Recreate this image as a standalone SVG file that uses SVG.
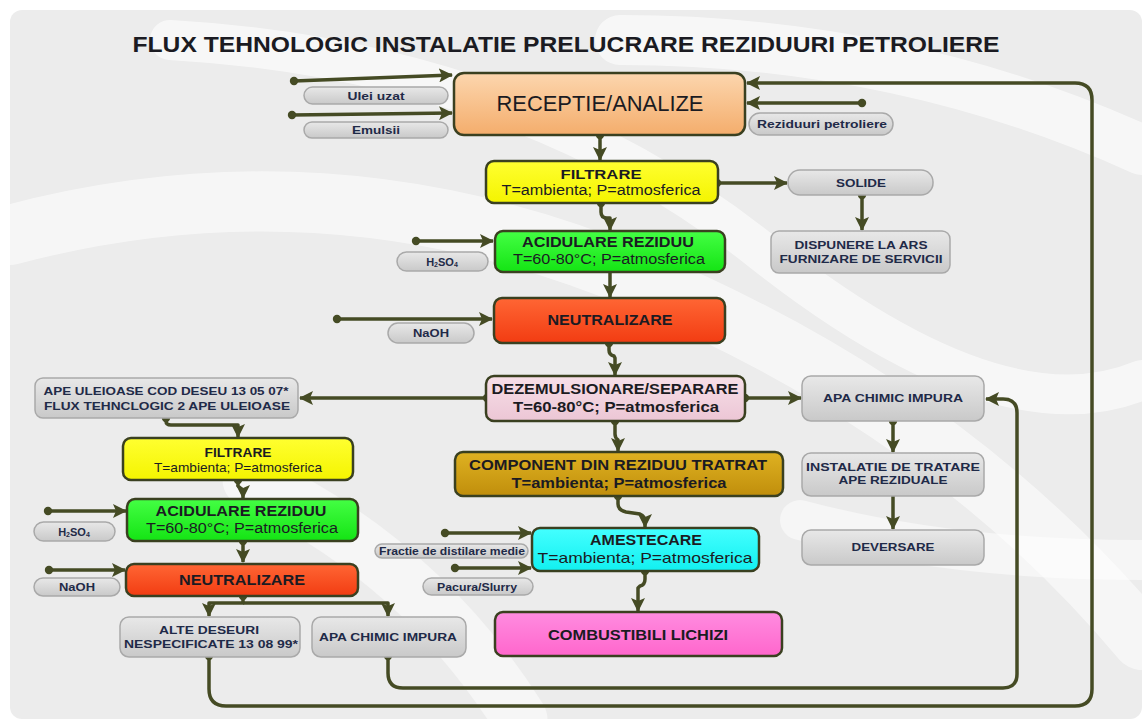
<svg xmlns="http://www.w3.org/2000/svg" width="1142" height="719" viewBox="0 0 1142 719">
<defs>
<linearGradient id="gOrange" x1="0" y1="0" x2="0" y2="1"><stop offset="0" stop-color="#fcd6ae"/><stop offset="1" stop-color="#f4ad6c"/></linearGradient>
<linearGradient id="gYellow" x1="0" y1="0" x2="0" y2="1"><stop offset="0" stop-color="#ffff30"/><stop offset="1" stop-color="#f4f400"/></linearGradient>
<linearGradient id="gGreen" x1="0" y1="0" x2="0" y2="1"><stop offset="0" stop-color="#44ff44"/><stop offset="1" stop-color="#14e414"/></linearGradient>
<linearGradient id="gRed" x1="0" y1="0" x2="0" y2="1"><stop offset="0" stop-color="#ff6634"/><stop offset="1" stop-color="#f23c12"/></linearGradient>
<linearGradient id="gPink" x1="0" y1="0" x2="0" y2="1"><stop offset="0" stop-color="#f7dfe8"/><stop offset="1" stop-color="#ecc6d5"/></linearGradient>
<linearGradient id="gGold" x1="0" y1="0" x2="0" y2="1"><stop offset="0" stop-color="#dfb222"/><stop offset="1" stop-color="#c08e0c"/></linearGradient>
<linearGradient id="gCyan" x1="0" y1="0" x2="0" y2="1"><stop offset="0" stop-color="#44ffff"/><stop offset="1" stop-color="#12f0f0"/></linearGradient>
<linearGradient id="gMag" x1="0" y1="0" x2="0" y2="1"><stop offset="0" stop-color="#ff8ce0"/><stop offset="1" stop-color="#ff66cc"/></linearGradient>
<linearGradient id="gGray" x1="0" y1="0" x2="0" y2="1"><stop offset="0" stop-color="#e8e8e8"/><stop offset="1" stop-color="#c9c9c9"/></linearGradient>
<marker id="arr" viewBox="0 0 14 14" refX="13" refY="7" markerWidth="14" markerHeight="14" markerUnits="userSpaceOnUse" orient="auto">
<path d="M0,0 L14,7 L0,14 L3,7 z" fill="#454b24"/>
</marker>
<marker id="dot" viewBox="-5 -5 10 10" refX="0" refY="0" markerWidth="10" markerHeight="10" markerUnits="userSpaceOnUse">
<circle r="4.2" fill="#454b24"/>
</marker>
<style>
.bg{fill:#ececec}
.sw{fill:none;stroke:#ffffff;stroke-linecap:round}
.n{stroke:#3a4020;stroke-width:2.5}
.g{fill:url(#gGray);stroke:#a9a9a9;stroke-width:1.5}
.c{fill:none;stroke:#454b24;stroke-width:3.5;stroke-linejoin:round;marker-end:url(#arr)}
.d{marker-start:url(#dot)}
.t{font-family:"Liberation Sans",Arial,sans-serif;fill:#1b1b22;text-anchor:middle}
.b{font-weight:bold}
.p{font-family:"Liberation Sans",Arial,sans-serif;font-weight:bold;fill:#1f2a48;text-anchor:middle;font-size:11px}
</style>
</defs>

<!-- background -->
<rect x="0" y="0" width="1142" height="719" fill="#ffffff"/>
<rect class="bg" x="10" y="10" width="1132" height="709" rx="12"/>
<path class="sw" d="M10,235 Q330,150 640,280 T1142,640" stroke-width="60" opacity="0.55"/>
<path class="sw" d="M170,40 Q520,60 760,250 T1142,380" stroke-width="40" opacity="0.6"/>
<path class="sw" d="M620,40 Q900,40 1142,150" stroke-width="50" opacity="0.6"/>
<path class="sw" d="M250,480 Q420,560 520,719" stroke-width="55" opacity="0.5"/>
<path class="sw" d="M800,520 Q950,560 1142,560" stroke-width="40" opacity="0.5"/>

<text class="t b" x="566" y="52" font-size="22" textLength="867" lengthAdjust="spacingAndGlyphs" fill="#1c1c28">FLUX TEHNOLOGIC INSTALATIE PRELUCRARE REZIDUURI PETROLIERE</text>

<g id="connectors">
<path class="c d" d="M294,81 L452,75"/>
<path class="c d" d="M292,115 L452,113"/>
<path class="c d" d="M862,103 L747,103" stroke-width="5.5"/>
<path class="c d" d="M600,135 L600,160"/>
<path class="c d" d="M717,183 L787,183"/>
<path class="c d" d="M862,195 L862,230"/>
<path class="c d" d="M601,203 L601,212 Q601,218 607,218 L610,218 L610,230"/>
<path class="c d" d="M416,241 L493,241"/>
<path class="c" d="M610,272 L610,297"/>
<path class="c d" d="M337,319 L492,319"/>
<path class="c d" d="M609,343 L609,350 Q609,355 614,356 L615,358 L615,375"/>
<path class="c d" d="M487,398 L300,398"/>
<path class="c d" d="M745,398 L801,398"/>
<path class="c d" d="M893,421 L893,452"/>
<path class="c" d="M893,496 L893,529"/>
<path class="c d" d="M615,421 L615,434 Q615,438 618,440 L618,451"/>
<path class="c d" d="M618,496 L618,504 Q618,510 626,512 L640,514 Q645,516 645,521 L645,527"/>
<path class="c d" d="M445,533 L531,533"/>
<path class="c d" d="M455,568 L531,568"/>
<path class="c d" d="M645,571 L645,579 Q645,585 640,586 L638,588 L638,611"/>
<path class="c d" d="M166,418 L166,421 Q166,425 171,425 L238,425 L238,437"/>
<path class="c d" d="M238,480 L238,486 L243,490 L243,498"/>
<path class="c d" d="M48,511 L126,511"/>
<path class="c d" d="M243,541 L243,562"/>
<path class="c d" d="M49,570 L125,570"/>
<path class="c d" d="M243,596 L243,603 L209,603 L209,616"/>
<path class="c" d="M243,603 L388,603 L388,616"/>
<path class="c d" d="M209,656 L209,689 Q209,706 226,706 L1075,706 Q1092,706 1092,689 L1092,100 Q1092,83 1075,83 L747,83" stroke-width="3"/>
<path class="c d" d="M388,656 L388,673 Q388,688 403,688 L1003,688 Q1017,688 1017,674 L1017,413 Q1017,399 1003,399 L986,399" stroke-width="3"/>
</g>

<g id="n-receptie">
<rect class="n" x="454" y="73" width="291" height="62" rx="10" fill="url(#gOrange)"/>
<text class="t" x="600" y="111" font-size="22" textLength="207" lengthAdjust="spacingAndGlyphs">RECEPTIE/ANALIZE</text>
</g>
<g id="n-uleiuzat">
<rect class="g" x="304" y="87" width="144" height="17" rx="8.5"/>
<text class="p" x="376" y="99.5" textLength="57" lengthAdjust="spacingAndGlyphs">Ulei uzat</text>
</g>
<g id="n-emulsii">
<rect class="g" x="304" y="122" width="144" height="16" rx="8"/>
<text class="p" x="376" y="133.5" textLength="48" lengthAdjust="spacingAndGlyphs">Emulsii</text>
</g>
<g id="n-reziduuri">
<rect class="g" x="749" y="113" width="144" height="22" rx="11"/>
<text class="p" x="822" y="127.5" textLength="130" lengthAdjust="spacingAndGlyphs">Reziduuri petroliere</text>
</g>
<g id="n-filtrare1">
<rect class="n" x="486" y="161" width="232" height="42" rx="8" fill="url(#gYellow)"/>
<text class="t b" x="601" y="179" font-size="13.5" textLength="81" lengthAdjust="spacingAndGlyphs">FILTRARE</text>
<text class="t" x="601" y="195" font-size="14" textLength="199" lengthAdjust="spacingAndGlyphs">T=ambienta; P=atmosferica</text>
</g>
<g id="n-solide">
<rect class="g" x="788" y="170" width="145" height="25" rx="12"/>
<text class="p" x="861" y="187" textLength="50" lengthAdjust="spacingAndGlyphs">SOLIDE</text>
</g>
<g id="n-dispunere">
<rect class="g" x="771" y="231" width="179" height="42" rx="8"/>
<text class="p" x="861" y="249" textLength="133" lengthAdjust="spacingAndGlyphs">DISPUNERE LA ARS</text>
<text class="p" x="861" y="263" textLength="163" lengthAdjust="spacingAndGlyphs">FURNIZARE DE SERVICII</text>
</g>
<g id="n-acidulare1">
<rect class="n" x="495" y="231" width="230" height="41" rx="8" fill="url(#gGreen)"/>
<text class="t b" x="608" y="247" font-size="14" textLength="172" lengthAdjust="spacingAndGlyphs">ACIDULARE REZIDUU</text>
<text class="t" x="609" y="264" font-size="14" textLength="192" lengthAdjust="spacingAndGlyphs">T=60-80°C; P=atmosferica</text>
</g>
<g id="n-h2so4-1">
<rect class="g" x="397" y="252" width="91" height="19" rx="9.5"/>
<text class="p" x="442" y="266">H<tspan font-size="7" dy="1">2</tspan><tspan dy="-1">SO</tspan><tspan font-size="7" dy="1">4</tspan></text>
</g>
<g id="n-neutralizare1">
<rect class="n" x="494" y="298" width="231" height="45" rx="8" fill="url(#gRed)"/>
<text class="t b" x="610" y="324.5" font-size="15" textLength="125" lengthAdjust="spacingAndGlyphs">NEUTRALIZARE</text>
</g>
<g id="n-naoh1">
<rect class="g" x="388" y="323" width="86" height="20" rx="10"/>
<text class="p" x="431" y="337" textLength="36" lengthAdjust="spacingAndGlyphs">NaOH</text>
</g>
<g id="n-dezem">
<rect class="n" x="486" y="376" width="259" height="45" rx="8" fill="url(#gPink)"/>
<text class="t b" x="615" y="394" font-size="14" textLength="247" lengthAdjust="spacingAndGlyphs">DEZEMULSIONARE/SEPARARE</text>
<text class="t b" x="616" y="412" font-size="14" textLength="206" lengthAdjust="spacingAndGlyphs" fill="#1f2a48">T=60-80°C; P=atmosferica</text>
</g>
<g id="n-apeuleioase">
<rect class="g" x="35" y="378" width="263" height="40" rx="8"/>
<text class="p" x="166" y="395" font-size="12" textLength="245" lengthAdjust="spacingAndGlyphs">APE ULEIOASE COD DESEU 13 05 07*</text>
<text class="p" x="167" y="410" font-size="12" textLength="246" lengthAdjust="spacingAndGlyphs">FLUX TEHNCLOGIC 2 APE ULEIOASE</text>
</g>
<g id="n-apachimic1">
<rect class="g" x="802" y="376" width="182" height="45" rx="9"/>
<text class="p" x="893" y="402" textLength="140" lengthAdjust="spacingAndGlyphs">APA CHIMIC IMPURA</text>
</g>
<g id="n-instalatie">
<rect class="g" x="802" y="453" width="182" height="43" rx="9"/>
<text class="p" x="893" y="471" textLength="174" lengthAdjust="spacingAndGlyphs">INSTALATIE DE TRATARE</text>
<text class="p" x="893" y="484" textLength="109" lengthAdjust="spacingAndGlyphs">APE REZIDUALE</text>
</g>
<g id="n-deversare">
<rect class="g" x="802" y="530" width="182" height="35" rx="9"/>
<text class="p" x="893" y="551" textLength="83" lengthAdjust="spacingAndGlyphs">DEVERSARE</text>
</g>
<g id="n-component">
<rect class="n" x="455" y="452" width="328" height="44" rx="8" fill="url(#gGold)"/>
<text class="t b" x="618" y="470" font-size="14" textLength="298" lengthAdjust="spacingAndGlyphs">COMPONENT DIN REZIDUU TRATRAT</text>
<text class="t b" x="619" y="488" font-size="14" textLength="215" lengthAdjust="spacingAndGlyphs" fill="#1f2a48">T=ambienta; P=atmosferica</text>
</g>
<g id="n-amestecare">
<rect class="n" x="532" y="528" width="227" height="43" rx="8" fill="url(#gCyan)"/>
<text class="t b" x="646" y="545" font-size="14" textLength="112" lengthAdjust="spacingAndGlyphs" fill="#1f2a48">AMESTECARE</text>
<text class="t" x="645" y="563" font-size="15" textLength="215" lengthAdjust="spacingAndGlyphs" fill="#1f2a48">T=ambienta; P=atmosferica</text>
</g>
<g id="n-fractie">
<rect class="g" x="375" y="544" width="153" height="14" rx="7"/>
<text class="p" x="452" y="554.5" font-size="10" textLength="146" lengthAdjust="spacingAndGlyphs">Fractie de distilare medie</text>
</g>
<g id="n-pacura">
<rect class="g" x="423" y="578" width="110" height="17" rx="8.5"/>
<text class="p" x="477" y="590.5" font-size="10" textLength="80" lengthAdjust="spacingAndGlyphs">Pacura/Slurry</text>
</g>
<g id="n-combustibili">
<rect class="n" x="495" y="612" width="287" height="44" rx="8" fill="url(#gMag)"/>
<text class="t b" x="638" y="640" font-size="15" textLength="180" lengthAdjust="spacingAndGlyphs">COMBUSTIBILI LICHIZI</text>
</g>
<g id="n-filtrare2">
<rect class="n" x="123" y="438" width="230" height="42" rx="8" fill="url(#gYellow)"/>
<text class="t b" x="238" y="456.5" font-size="13.5" textLength="67" lengthAdjust="spacingAndGlyphs">FILTRARE</text>
<text class="t" x="238" y="471.5" font-size="13" textLength="168" lengthAdjust="spacingAndGlyphs" fill="#666650">T=ambienta; P=atmosferica</text>
</g>
<g id="n-acidulare2">
<rect class="n" x="127" y="499" width="231" height="42" rx="8" fill="url(#gGreen)"/>
<text class="t b" x="241" y="516" font-size="14" textLength="171" lengthAdjust="spacingAndGlyphs">ACIDULARE REZIDUU</text>
<text class="t" x="242" y="533" font-size="14" textLength="192" lengthAdjust="spacingAndGlyphs">T=60-80°C; P=atmosferica</text>
</g>
<g id="n-h2so4-2">
<rect class="g" x="34" y="522" width="81" height="19" rx="9.5"/>
<text class="p" x="74" y="536">H<tspan font-size="7" dy="1">2</tspan><tspan dy="-1">SO</tspan><tspan font-size="7" dy="1">4</tspan></text>
</g>
<g id="n-neutralizare2">
<rect class="n" x="126" y="564" width="232" height="32" rx="8" fill="url(#gRed)"/>
<text class="t b" x="242" y="584.5" font-size="15" textLength="126" lengthAdjust="spacingAndGlyphs">NEUTRALIZARE</text>
</g>
<g id="n-naoh2">
<rect class="g" x="34" y="578" width="86" height="18" rx="9"/>
<text class="p" x="77" y="591" textLength="36" lengthAdjust="spacingAndGlyphs">NaOH</text>
</g>
<g id="n-altedeseuri">
<rect class="g" x="120" y="617" width="180" height="40" rx="9"/>
<text class="p" x="209" y="634" textLength="100" lengthAdjust="spacingAndGlyphs">ALTE DESEURI</text>
<text class="p" x="211" y="648" textLength="174" lengthAdjust="spacingAndGlyphs">NESPECIFICATE 13 08 99*</text>
</g>
<g id="n-apachimic2">
<rect class="g" x="312" y="617" width="154" height="40" rx="9"/>
<text class="p" x="388" y="641" textLength="138" lengthAdjust="spacingAndGlyphs">APA CHIMIC IMPURA</text>
</g>
</svg>
